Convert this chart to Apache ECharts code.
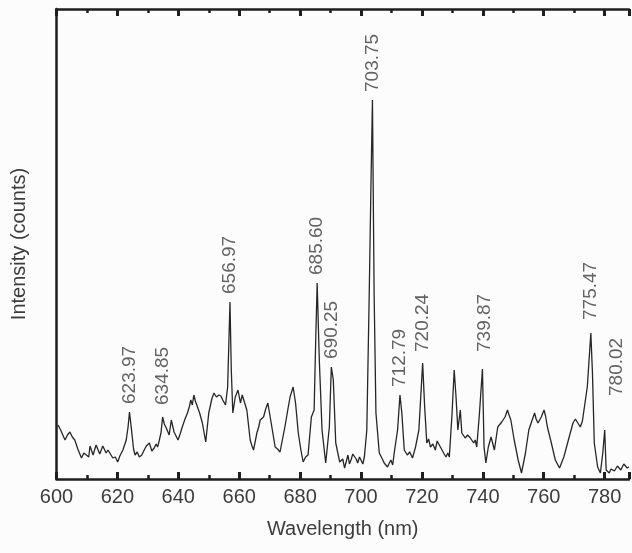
<!DOCTYPE html>
<html>
<head>
<meta charset="utf-8">
<script src="https://cdn.jsdelivr.net/npm/echarts@6/dist/echarts.min.js"></script>
<style>
  html, body { margin: 0; padding: 0; background: #fcfcfc; }
  #chart { width: 632px; height: 553px; }
</style>
</head>
<body>
<div id="chart"></div>
<script>
// Wavelength (nm) of each sampled point of the spectrum
const wavelengths = [
  600.5, 601.2, 601.7, 602.8, 603.6, 604.4, 605.2, 606.0, 607.0, 608.2,
  609.0, 609.8, 610.6, 611.0, 611.5, 612.0, 612.5, 613.0, 613.6, 614.2,
  614.7, 615.2, 615.8, 616.3, 616.9, 617.5, 618.5, 619.3, 620.1, 620.8,
  621.8, 622.9, 623.5, 623.97, 624.6, 625.3, 625.8, 626.5, 627.2, 628.0,
  628.8, 629.5, 630.5, 631.3, 632.1, 632.7, 633.2, 633.7, 634.3, 634.85,
  635.4, 635.9, 637.0, 637.7, 638.6, 639.9, 640.6, 641.3, 642.2, 643.0,
  643.6, 644.1, 644.6, 645.1, 645.6, 646.2, 647.0, 647.9, 649.0, 650.0,
  651.0, 651.7, 652.5, 653.3, 654.0, 654.6, 655.5, 656.2, 656.97, 657.4,
  657.9, 658.7, 659.6, 660.4, 661.0, 661.4, 662.5, 663.6, 664.2, 664.7,
  665.8, 666.4, 666.9, 668.0, 668.7, 669.4, 670.5, 671.8, 672.6, 673.4,
  675.0, 676.0, 676.7, 677.7, 678.5, 679.4, 680.2, 681.0, 681.8, 682.6,
  683.7, 684.6, 685.1, 685.6, 686.3, 687.2, 688.4, 689.6, 690.25, 690.9,
  691.7, 693.0, 694.0, 694.6, 695.2, 695.7, 696.2, 696.7, 697.3, 697.8,
  698.4, 698.9, 699.5, 700.0, 700.6, 701.1, 701.9, 702.7, 703.2, 703.75,
  704.3, 704.9, 706.0, 707.0, 707.6, 708.7, 709.3, 709.8, 710.4, 710.9,
  712.0, 712.79, 713.4, 714.2, 715.2, 716.0, 716.9, 717.9, 719.0, 720.24,
  720.9, 721.6, 722.2, 722.8, 723.6, 724.4, 725.0, 725.6, 726.6, 727.3,
  727.9, 728.5, 729.0, 729.9, 730.6, 731.2, 731.8, 732.6, 733.1, 734.2,
  735.0, 735.9, 737.0, 737.5, 738.0, 738.9, 739.87, 740.4, 741.0, 741.8,
  742.7, 743.8, 744.9, 745.5, 746.2, 747.3, 748.1, 748.6, 749.2, 750.3,
  751.6, 752.7, 754.0, 755.1, 756.2, 757.0, 757.5, 758.1, 759.2, 760.1,
  760.6, 761.2, 762.5, 763.8, 765.2, 766.6, 768.1, 769.6, 770.4, 771.0,
  772.0, 772.7, 773.3, 774.3, 775.47, 776.0, 776.6, 777.7, 778.6, 779.4,
  780.02, 780.5, 781.0, 781.5, 782.1, 782.6, 783.2, 783.7, 784.2, 784.7,
  785.3, 785.8, 786.3, 786.8, 787.4, 788.0
];
// Intensity (arbitrary counts) at each wavelength
const intensities = [
  54, 50, 51, 39, 44, 47, 42, 39, 30, 21,
  26, 24, 22, 33, 31, 24, 26, 34, 36, 25,
  27, 33, 31, 26, 29, 28, 21, 22, 17, 23,
  29, 39, 52, 67, 50, 30, 24, 27, 22, 24,
  29, 33, 36, 28, 31, 35, 32, 38, 46, 62,
  55, 52, 44, 59, 47, 39, 45, 52, 60, 66,
  72, 79, 74, 84, 78, 77, 66, 56, 37, 66,
  80, 86, 82, 84, 83, 79, 74, 92, 177, 109,
  66, 82, 89, 76, 84, 86, 69, 39, 33, 29,
  46, 52, 59, 62, 70, 76, 56, 32, 30, 27,
  52, 70, 82, 92, 76, 46, 30, 17, 22, 24,
  62, 69, 136, 196, 119, 49, 16, 52, 112, 99,
  36, 17, 20, 11, 18, 24, 15, 19, 25, 26,
  20, 16, 22, 21, 15, 22, 49, 186, 282, 379,
  186, 66, 26, 20, 16, 12, 16, 19, 14, 26,
  49, 84, 66, 29, 24, 27, 21, 32, 49, 116,
  72, 36, 40, 32, 35, 29, 38, 36, 29, 25,
  22, 26, 22, 66, 109, 82, 49, 69, 46, 41,
  44, 41, 36, 39, 32, 66, 110, 32, 16, 32,
  42, 29, 52, 50, 57, 62, 69, 64, 59, 39,
  19, 6, 26, 49, 59, 66, 60, 56, 62, 69,
  63, 52, 36, 19, 11, 22, 39, 56, 60, 62,
  52, 58, 56, 92, 146, 106, 36, 12, 6, 26,
  49, 9, 11, 6, 10, 12, 8, 9, 13, 14,
  9, 11, 15, 16, 11, 12
];
// Labelled peaks
const peakWavelengths = [623.97, 634.85, 656.97, 685.60, 690.25, 703.75, 712.79, 720.24, 739.87, 775.47, 780.02];
const peakLabels = ["623.97", "634.85", "656.97", "685.60", "690.25", "703.75", "712.79", "720.24", "739.87", "775.47", "780.02"];
// Axis
const xTicks = [600, 620, 640, 660, 680, 700, 720, 740, 760, 780];

const lineData = wavelengths.map((w, i) => [w, intensities[i]]);
function heightAt(w) {
  let best = 0, bd = Infinity;
  wavelengths.forEach((x, i) => { const d = Math.abs(x - w); if (d < bd) { bd = d; best = i; } });
  return intensities[best];
}
// label offsets are in the rotated text frame: [along text (up), across text (right)]
const labelOverrides = {
  "780.02": { offset: [26, 12] },
  "739.87": { offset: [9, 2] },
  "634.85": { offset: [4, 0] },
  "720.24": { offset: [3, 0] },
  "775.47": { offset: [5, 0] }
};
const peakData = peakWavelengths.map((w, i) => {
  const item = { value: [w, heightAt(w)], name: peakLabels[i] };
  if (labelOverrides[peakLabels[i]]) item.label = labelOverrides[peakLabels[i]];
  return item;
});

const textColor = '#3c3c3c';
const lineColor = '#1e1e1e';
const fontFamily = 'Liberation Sans, Arial, sans-serif';

const chart = echarts.init(document.getElementById('chart'), null, { renderer: 'canvas' });
chart.setOption({
  backgroundColor: '#fcfcfc',
  animation: false,
  grid: { left: 56.5, top: 9, bottom: 74, right: -2, containLabel: false },
  xAxis: [
    {
      type: 'value', position: 'bottom', min: 600, max: 788, interval: 20,
      name: 'Wavelength (nm)', nameLocation: 'middle', nameGap: 40,
      nameTextStyle: { color: textColor, fontSize: 20, fontFamily: fontFamily },
      axisLine: { show: true, onZero: false, lineStyle: { color: lineColor, width: 2.5 } },
      axisTick: { show: true, inside: true, length: 7, lineStyle: { color: lineColor, width: 3 } },
      minorTick: { show: true, splitNumber: 2, length: 4, lineStyle: { color: lineColor, width: 2.5 } },
      axisLabel: {
        color: textColor, fontSize: 20, fontFamily: fontFamily, margin: 8,
        formatter: v => (xTicks.indexOf(v) >= 0 ? String(v) : '')
      },
      splitLine: { show: false }
    },
    {
      type: 'value', position: 'top', min: 600, max: 788, interval: 20,
      axisLine: { show: true, onZero: false, lineStyle: { color: lineColor, width: 2.5 } },
      axisTick: { show: true, inside: true, length: 7, lineStyle: { color: lineColor, width: 3 } },
      minorTick: { show: true, splitNumber: 2, length: 4, lineStyle: { color: lineColor, width: 2.5 } },
      axisLabel: { show: false },
      splitLine: { show: false }
    }
  ],
  yAxis: {
    type: 'value', min: 0, max: 470,
    name: 'Intensity (counts)', nameLocation: 'middle', nameGap: 27,
    nameTextStyle: { color: textColor, fontSize: 20, fontFamily: fontFamily },
    axisLine: { show: true, onZero: false, lineStyle: { color: lineColor, width: 2.5 } },
    axisTick: { show: false },
    axisLabel: { show: false },
    splitLine: { show: false }
  },
  series: [
    {
      type: 'line', data: lineData, showSymbol: false, symbol: 'none',
      lineStyle: { color: '#262626', width: 1.3 }, z: 3
    },
    {
      type: 'scatter', data: peakData, symbolSize: 0, silent: true,
      label: {
        show: true, position: 'top', distance: 8, rotate: 90,
        align: 'left', verticalAlign: 'middle',
        formatter: p => p.name,
        color: textColor, fontSize: 19, fontFamily: fontFamily
      }, z: 4
    }
  ]
});
</script>
</body>
</html>
